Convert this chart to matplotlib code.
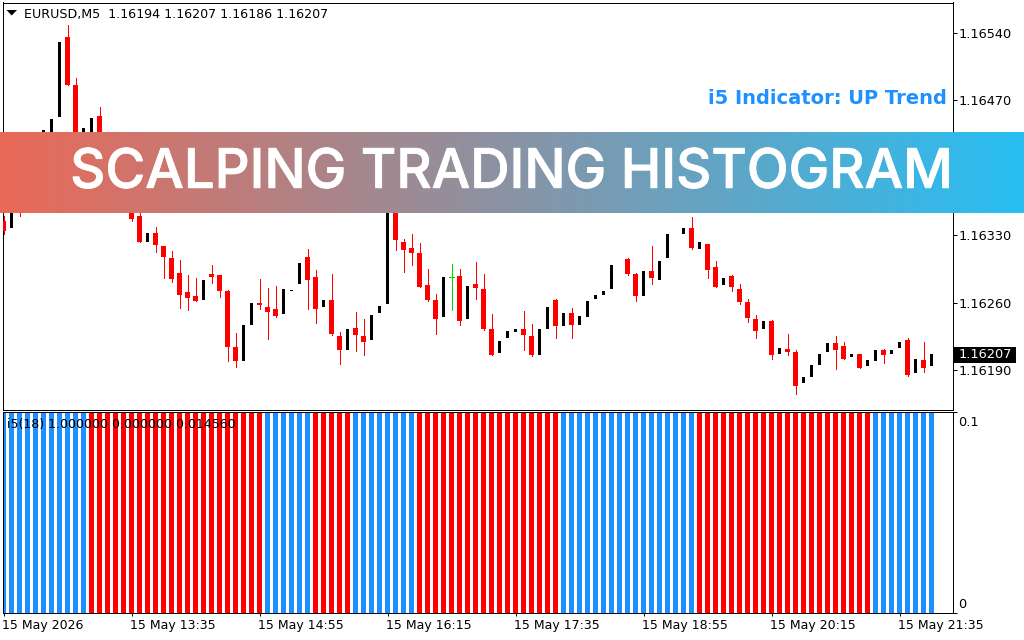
import numpy as np
import matplotlib
matplotlib.use("Agg")
import matplotlib.pyplot as plt
import matplotlib.patheffects as pe
from matplotlib.colors import LinearSegmentedColormap
from matplotlib.patches import Rectangle, Polygon
from matplotlib.transforms import ScaledTranslation

nan = float("nan")
POINT = 1e-5
BASE = 1.16

# Prices in points above BASE, one row per 20 bars
opens = [345,338,372,361,387,418,429,453,536,486,429,433,454,418,398,382,361,350,323,332,
         319,306,291,271,267,263,290,289,272,214,200,237,260,256,254,248,272,279,308,287,
         256,263,226,211,234,226,221,249,259,377,323,317,312,278,263,245,287,288,243,279,
         274,233,208,223,230,233,226,206,233,263,236,249,237,245,264,268,274,nan,305,290,
         267,293,284,306,nan,331,338,316,321,297,278,288,274,261,243,233,241,207,212,209,
         177,183,195,209,218,215,204,207,194,200,211,207,213,221,187,201,194]
closes = [334,361,354,382,424,439,451,530,486,429,441,452,418,398,377,361,347,323,332,320,
          308,285,268,265,262,284,287,272,214,200,237,260,258,250,246,274,273,301,284,254,
          263,228,211,233,227,219,247,257,377,325,315,312,276,263,243,287,287,241,277,275,
          233,206,220,231,233,227,206,233,256,236,249,237,246,262,268,272,299,nan,290,267,
          293,286,303,331,nan,338,317,323,294,276,286,276,261,244,231,241,206,213,209,174,
          183,195,207,218,211,202,207,192,201,211,206,211,219,185,202,192,207]
highs = [350,361,377,382,424,439,451,530,548,493,441,452,463,424,398,387,367,354,332,339,
         319,314,304,289,286,284,299,289,273,229,237,260,285,275,277,274,273,301,316,294,
         263,290,230,233,250,243,247,257,377,382,326,331,322,295,269,287,300,295,277,302,
         290,248,220,231,233,251,238,233,256,264,249,255,246,262,268,272,299,nan,306,291,
         293,319,303,331,nan,338,349,323,321,303,286,289,279,264,247,241,242,213,228,211,
         183,195,207,218,226,219,207,207,201,211,212,211,219,223,202,219,207]
lows = [331,338,350,361,387,418,429,453,486,424,429,433,413,392,372,356,345,323,323,313,
        286,282,255,253,262,263,281,266,200,193,200,237,254,222,245,248,272,279,254,239,
        256,227,197,211,210,206,221,249,259,315,292,299,276,262,228,245,253,237,243,264,
        232,206,208,223,230,211,205,206,233,224,236,224,237,245,264,268,274,nan,289,262,
        267,279,284,306,nan,331,316,316,286,276,278,272,259,240,224,233,202,207,206,165,
        177,183,195,209,191,202,204,192,194,200,198,207,213,184,187,188,194]

trend_states = ["up", "down", "up", "down", "up", "down", "up", "down", "up"]
trend_lengths = [11, 22, 6, 5, 8, 18, 17, 22, 8]

price_ticks = [1.16190, 1.16260, 1.16330, 1.16400, 1.16470, 1.16540]
time_labels = ["15 May 2026", "15 May 13:35", "15 May 14:55", "15 May 16:15",
               "15 May 17:35", "15 May 18:55", "15 May 20:15", "15 May 21:35"]
TICK_EVERY = 16

header = "EURUSD,M5  1.16194 1.16207 1.16186 1.16207"
indicator_label = "i5(18) 1.000000 0.000000 0.014560"
trend_label = "i5 Indicator: UP Trend"
banner_title = "SCALPING TRADING HISTOGRAM"
last_price_label = "1.16207"

RED = "#FF0000"
BLUE = "#1E90FF"
GREEN = "#00DD00"
W, H = 1024, 640
px = 0.72  # one pixel in points at dpi 100

plt.rcParams["font.family"] = ["DejaVu Sans"]
fig = plt.figure(figsize=(W / 100, H / 100), dpi=100, facecolor="white")


def px_axes(l, t, r, b, **kw):
    return fig.add_axes([l / W, 1 - b / H, (r - l) / W, (b - t) / H], **kw)


def fx(x):
    return x / W


def fy(y):
    return 1 - y / H


def nudge(label, dx_px, dy_px):
    off = ScaledTranslation(dx_px / 100, dy_px / 100, fig.dpi_scale_trans)
    label.set_transform(label.get_transform() + off)


o = np.array(opens, float)
c = np.array(closes, float)
hi = np.array(highs, float)
lo = np.array(lows, float)
idx = np.arange(len(o))
prices = lambda a: BASE + np.asarray(a) * POINT

# ---------- main price panel
ax = px_axes(2.5, 2.5, 952.5, 409.5)
xlim = (-1 / 8, 949 / 8)
ax.set_xlim(xlim)
ax.set_ylim(prices(574 - 1.037 * 409.5), prices(574 - 1.037 * 2.5))

up = c > o
down = c < o
flat = c == o

ax.vlines(idx[down], prices(lo[down]), prices(hi[down]), color=RED, lw=px, zorder=2, antialiased=False)
ax.bar(idx[down], prices(o[down]) - prices(c[down]), bottom=prices(c[down]),
       width=5 / 8, color=RED, lw=0, zorder=3, antialiased=False)
ax.bar(idx[up], prices(c[up]) - prices(o[up]), bottom=prices(o[up]),
       width=3 / 8, color="black", lw=0, zorder=3, antialiased=False)
ax.vlines(idx[flat], prices(lo[flat]), prices(hi[flat]), color=GREEN, lw=px, zorder=3, antialiased=False)
ax.hlines(prices(c[flat]), idx[flat] - 2.5 / 8, idx[flat] + 2.5 / 8, color=GREEN, lw=px, zorder=3, antialiased=False)

ax.yaxis.tick_right()
ax.set_yticks(price_ticks)
ax.set_yticklabels([f"{p:.5f}" for p in price_ticks], fontsize=9.3)
ax.tick_params(axis="y", length=4 * px, width=px, pad=1.5)
ax.set_xticks([])

# ---------- histogram panel
ax2 = px_axes(2.5, 411.5, 952.5, 612.5)
ax2.set_xlim(xlim)
ax2.set_ylim(0, 0.1)
states = np.repeat(trend_states, trend_lengths)
colors = [BLUE if s == "up" else RED for s in states]
ax2.bar(np.arange(len(states)), np.ones(len(states)), width=5 / 8, color=colors, lw=0, antialiased=False)
ax2.yaxis.tick_right()
ax2.set_yticks([0, 0.1])
ax2.set_yticklabels(["0", "0.1"], fontsize=9.3)
ax2.tick_params(axis="y", length=4 * px, width=px, pad=1.5)
ylabels = ax2.get_yticklabels()
ylabels[0].set_va("bottom")
ylabels[1].set_va("top")
nudge(ylabels[0], 0, 1)
nudge(ylabels[1], 0, -5)
ax2.set_xticks(np.arange(0, len(states), TICK_EVERY))
ax2.set_xticklabels(time_labels, fontsize=9, ha="left")
ax2.tick_params(axis="x", length=3 * px, width=px, pad=2.5)
for tl in ax2.get_xticklabels():
    nudge(tl, -1.5, 0)

for a in (ax, ax2):
    for s in a.spines.values():
        s.set_linewidth(px)
        s.set_color("black")

# ---------- chart annotations
fig.add_artist(Polygon([[fx(6.5), fy(10)], [fx(17), fy(10)], [fx(11.7), fy(15.5)]],
                       closed=True, color="black", transform=fig.transFigure, lw=0))
fig.text(fx(24), fy(14.5), header, fontsize=9.05, va="center", ha="left", color="black")
fig.text(fx(7), fy(424.5), indicator_label, fontsize=9, va="center", ha="left", color="black", zorder=20)
fig.text(fx(947), fy(98), trend_label, fontsize=14, fontweight="bold", va="center", ha="right",
         color=BLUE, zorder=5)
fig.add_artist(Rectangle((fx(954), fy(363)), 62 / W, 16 / H, color="black", lw=0,
                         transform=fig.transFigure, zorder=6))
fig.text(fx(985), fy(355), last_price_label, fontsize=9.3, va="center", ha="center", color="white", zorder=7)

# ---------- banner
bax = px_axes(0, 131.7, W, 212.7, zorder=10)
cmap = LinearSegmentedColormap.from_list("banner", ["#EA6957", "#28BEF3"])
bax.imshow(np.linspace(0, 1, W)[None, :], aspect="auto", cmap=cmap, extent=(0, 1, 0, 1))
bax.axis("off")
bax.text(511 / W, 0.48, banner_title, transform=bax.transAxes, ha="center", va="center",
         color="white", fontsize=39.2, family="Inter", fontweight="medium",
         path_effects=[pe.withStroke(linewidth=0.6, foreground="white")])

fig.savefig("out.png", dpi=100)
